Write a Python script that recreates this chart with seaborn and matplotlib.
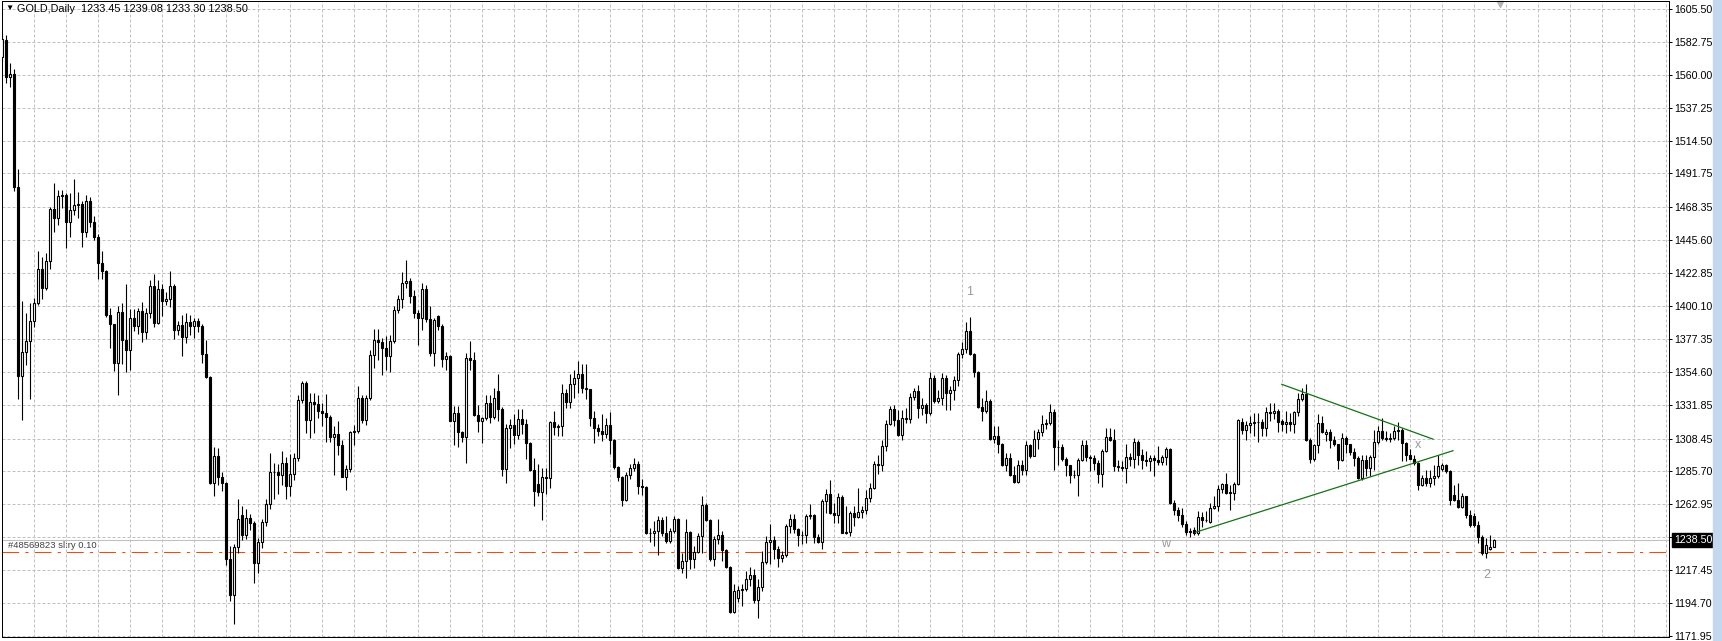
import numpy as np
import pandas as pd
import seaborn as sns
import matplotlib.pyplot as plt
from matplotlib.patches import Rectangle

# GOLD daily candles (oldest first)
opens = [
    1572.3, 1584.0, 1558.3, 1560.5, 1482.2, 1351.7, 1368.1, 1376.1, 1390.0, 1402.4,
    1426.0, 1412.7, 1430.9, 1467.5, 1461.0, 1475.9, 1477.0, 1458.0, 1466.5, 1470.0,
    1470.5, 1451.5, 1473.0, 1458.0, 1448.0, 1430.0, 1424.2, 1393.7, 1387.6, 1360.5,
    1395.7, 1376.3, 1369.9, 1391.8, 1386.4, 1396.5, 1382.0, 1395.0, 1414.0, 1388.4,
    1411.9, 1403.3, 1405.0, 1414.0, 1383.2, 1387.0, 1378.4, 1389.0, 1386.0, 1390.0,
    1386.0, 1367.2, 1351.1, 1277.7, 1296.4, 1282.1, 1277.5, 1224.9, 1200.3, 1233.5,
    1255.6, 1241.8, 1253.5, 1250.0, 1222.4, 1236.9, 1250.7, 1263.2, 1285.3, 1285.5,
    1283.0, 1291.6, 1275.7, 1284.0, 1295.0, 1335.1, 1346.8, 1321.0, 1334.0, 1332.5,
    1327.2, 1326.0, 1323.7, 1309.4, 1311.7, 1303.7, 1282.2, 1287.3, 1312.9, 1313.4,
    1336.4, 1321.4, 1336.4, 1366.4, 1376.7, 1375.0, 1371.0, 1365.7, 1375.6, 1397.5,
    1404.9, 1415.9, 1417.5, 1406.7, 1395.2, 1391.7, 1411.8, 1391.0, 1367.5, 1393.0,
    1386.4, 1363.4, 1365.2, 1320.9, 1326.0, 1312.7, 1309.4, 1364.0, 1363.0, 1324.9,
    1320.9, 1322.6, 1332.9, 1323.7, 1341.0, 1328.6, 1287.6, 1315.9, 1317.5, 1310.6,
    1322.1, 1318.2, 1305.6, 1286.7, 1277.0, 1271.5, 1282.0, 1281.0, 1320.0, 1316.6,
    1316.8, 1340.1, 1333.7, 1346.5, 1350.5, 1353.0, 1343.5, 1342.4, 1322.8, 1315.9,
    1313.6, 1311.3, 1317.5, 1307.4, 1289.0, 1282.0, 1266.0, 1283.0, 1288.3, 1290.6,
    1275.6, 1274.9, 1243.4, 1243.0, 1244.5, 1251.9, 1243.0, 1237.7, 1244.6, 1252.6,
    1219.2, 1224.0, 1243.9, 1224.9, 1230.0, 1241.0, 1262.3, 1252.2, 1225.0, 1238.8,
    1241.6, 1231.5, 1219.5, 1188.2, 1198.5, 1203.8, 1204.3, 1211.3, 1214.0, 1197.0,
    1205.6, 1223.2, 1237.0, 1238.0, 1232.4, 1226.2, 1227.8, 1248.0, 1253.0, 1246.0,
    1241.9, 1241.8, 1254.9, 1255.8, 1240.5, 1237.0, 1265.3, 1270.4, 1256.8, 1255.6,
    1268.2, 1243.4, 1244.0, 1257.2, 1254.5, 1257.9, 1259.0, 1267.6, 1274.5, 1291.0,
    1290.0, 1303.2, 1318.8, 1329.2, 1321.5, 1310.8, 1323.0, 1322.2, 1337.0, 1341.5,
    1329.6, 1331.9, 1326.0, 1350.3, 1334.2, 1336.5, 1350.3, 1339.9, 1342.2, 1349.1,
    1367.0, 1370.2, 1382.9, 1367.0, 1354.8, 1330.0, 1327.2, 1334.6, 1308.2, 1310.5,
    1304.8, 1290.5, 1295.0, 1283.5, 1278.4, 1290.5, 1286.5, 1303.7, 1296.7, 1308.3,
    1312.9, 1318.3, 1319.4, 1327.0, 1302.7, 1302.5, 1294.4, 1290.0, 1283.5, 1283.3,
    1293.9, 1303.7, 1295.8, 1295.3, 1291.3, 1284.2, 1299.7, 1309.7, 1307.8, 1289.3,
    1288.8, 1288.0, 1295.8, 1294.4, 1306.0, 1297.4, 1293.5, 1292.8, 1294.9, 1293.8,
    1292.0, 1295.8, 1301.3, 1263.8, 1258.8, 1255.3, 1249.3, 1244.5, 1245.0, 1243.0,
    1253.9, 1251.8, 1251.0, 1260.4, 1261.5, 1273.6, 1277.3, 1271.5, 1270.8, 1277.3,
    1320.0, 1314.3, 1318.0, 1319.4, 1320.0, 1319.6, 1316.0, 1327.0, 1326.4, 1327.5,
    1320.5, 1318.8, 1320.0, 1318.6, 1327.0, 1335.6, 1339.0, 1307.8, 1294.4, 1303.7,
    1319.0, 1311.5, 1313.0, 1307.4, 1304.4, 1293.5, 1309.0, 1304.4, 1299.0, 1295.0,
    1281.0, 1293.9, 1288.2, 1295.8, 1306.0, 1313.6, 1309.0, 1308.3, 1309.0, 1313.6,
    1314.2, 1305.1, 1297.4, 1294.4, 1291.6, 1276.6, 1281.2, 1277.7, 1281.2, 1282.8,
    1287.5, 1290.0, 1285.8, 1269.5, 1266.0, 1261.0, 1268.5, 1255.8, 1255.0, 1249.0,
    1240.7, 1229.0, 1231.9, 1233.45,
]
highs = [
    1589.1, 1587.5, 1568.4, 1563.8, 1494.9, 1403.3, 1395.0, 1402.0, 1405.5, 1438.0,
    1434.0, 1436.8, 1468.8, 1484.9, 1480.0, 1480.0, 1478.5, 1478.6, 1488.0, 1479.0,
    1472.5, 1477.0, 1475.5, 1462.5, 1450.0, 1438.0, 1425.0, 1399.0, 1388.0, 1400.0,
    1402.5, 1415.4, 1398.0, 1398.0, 1399.0, 1403.0, 1399.0, 1418.0, 1422.0, 1418.0,
    1415.5, 1410.0, 1424.0, 1415.5, 1389.5, 1394.0, 1395.0, 1394.0, 1391.5, 1391.5,
    1387.5, 1376.5, 1352.0, 1302.9, 1302.0, 1285.0, 1278.5, 1234.0, 1235.5, 1267.0,
    1261.8, 1259.7, 1256.0, 1251.5, 1240.0, 1252.5, 1267.0, 1298.5, 1291.3, 1291.0,
    1300.0, 1296.0, 1298.0, 1298.5, 1338.6, 1348.0, 1348.0, 1339.9, 1340.3, 1338.7,
    1333.0, 1339.4, 1325.0, 1316.8, 1320.3, 1307.6, 1290.3, 1314.0, 1318.0, 1344.5,
    1338.7, 1338.7, 1369.8, 1384.1, 1384.1, 1377.9, 1379.5, 1380.2, 1399.8, 1407.9,
    1423.3, 1432.0, 1419.4, 1411.3, 1397.5, 1415.9, 1414.8, 1399.8, 1391.7, 1394.0,
    1388.0, 1368.0, 1366.4, 1330.7, 1331.0, 1314.0, 1367.5, 1375.6, 1368.0, 1331.8,
    1323.7, 1338.7, 1338.7, 1343.3, 1352.8, 1330.0, 1318.2, 1321.7, 1325.1, 1329.0,
    1329.0, 1321.7, 1306.0, 1295.2, 1290.6, 1288.3, 1288.3, 1320.5, 1327.4, 1318.2,
    1345.9, 1342.4, 1352.8, 1356.2, 1362.0, 1359.7, 1359.7, 1342.9, 1327.4, 1318.2,
    1325.1, 1322.8, 1326.7, 1308.0, 1289.5, 1282.5, 1285.3, 1290.6, 1294.7, 1292.9,
    1280.2, 1275.5, 1246.9, 1251.5, 1254.9, 1254.0, 1254.9, 1246.9, 1254.9, 1253.5,
    1229.6, 1252.6, 1244.5, 1234.2, 1243.4, 1268.7, 1264.1, 1253.0, 1241.1, 1252.6,
    1244.6, 1232.0, 1220.4, 1207.7, 1206.6, 1207.7, 1217.0, 1219.3, 1218.2, 1211.3,
    1230.8, 1241.2, 1249.2, 1241.2, 1234.3, 1230.8, 1249.2, 1256.1, 1256.1, 1246.9,
    1244.6, 1256.1, 1263.0, 1256.1, 1242.3, 1266.4, 1273.3, 1279.5, 1264.1, 1271.0,
    1269.5, 1261.8, 1258.4, 1261.8, 1274.5, 1261.8, 1272.8, 1277.4, 1292.8, 1297.4,
    1307.8, 1321.5, 1330.7, 1331.9, 1328.4, 1328.4, 1329.6, 1339.9, 1343.4, 1345.7,
    1336.5, 1333.0, 1354.8, 1352.6, 1342.2, 1353.7, 1352.6, 1344.5, 1351.4, 1368.6,
    1375.5, 1389.3, 1392.7, 1367.9, 1355.5, 1336.5, 1342.2, 1336.0, 1317.0, 1317.4,
    1305.5, 1298.6, 1298.6, 1289.3, 1293.9, 1293.9, 1307.1, 1305.0, 1314.3, 1314.8,
    1324.5, 1321.7, 1332.1, 1328.7, 1307.8, 1304.4, 1295.8, 1290.5, 1287.0, 1295.1,
    1307.8, 1307.8, 1297.4, 1297.4, 1293.9, 1300.9, 1315.9, 1315.9, 1314.8, 1293.9,
    1292.8, 1304.4, 1298.6, 1309.0, 1307.8, 1300.9, 1299.7, 1297.4, 1297.4, 1303.2,
    1297.4, 1302.7, 1302.0, 1266.2, 1260.8, 1260.4, 1251.1, 1246.5, 1247.6, 1258.1,
    1257.4, 1258.1, 1263.9, 1268.5, 1276.6, 1277.7, 1284.7, 1276.6, 1278.2, 1322.2,
    1322.9, 1320.6, 1324.0, 1326.4, 1326.4, 1321.7, 1330.5, 1332.8, 1332.8, 1328.7,
    1322.0, 1327.5, 1326.4, 1327.5, 1340.2, 1343.7, 1346.0, 1308.5, 1304.4, 1325.2,
    1324.0, 1315.2, 1315.2, 1310.2, 1305.0, 1312.5, 1310.2, 1305.0, 1302.0, 1296.7,
    1297.4, 1297.4, 1297.4, 1314.3, 1317.1, 1322.9, 1313.6, 1312.5, 1317.1, 1319.9,
    1315.9, 1306.0, 1300.9, 1297.4, 1292.0, 1283.5, 1287.0, 1287.0, 1290.5, 1297.4,
    1291.6, 1291.0, 1286.5, 1276.6, 1277.7, 1270.8, 1269.0, 1259.2, 1256.9, 1251.1,
    1241.9, 1239.5, 1241.9, 1239.08,
]
lows = [
    1569.0, 1554.5, 1551.8, 1479.9, 1335.6, 1321.0, 1359.0, 1335.6, 1385.4, 1401.0,
    1405.0, 1411.0, 1426.0, 1451.5, 1456.0, 1468.0, 1440.0, 1448.0, 1463.0, 1461.0,
    1441.0, 1447.5, 1454.5, 1445.5, 1419.0, 1419.0, 1392.5, 1371.0, 1355.0, 1338.3,
    1359.7, 1354.6, 1356.0, 1383.0, 1381.0, 1375.5, 1377.0, 1391.5, 1385.5, 1387.5,
    1393.5, 1401.0, 1399.5, 1377.3, 1380.0, 1365.5, 1374.5, 1380.0, 1378.0, 1382.0,
    1360.5, 1350.0, 1277.0, 1268.8, 1276.0, 1272.0, 1221.0, 1196.0, 1180.0, 1229.0,
    1238.0, 1238.8, 1245.0, 1208.6, 1215.5, 1233.0, 1248.0, 1259.5, 1267.0, 1270.0,
    1276.0, 1266.5, 1268.5, 1280.0, 1293.0, 1333.0, 1312.6, 1308.7, 1312.2, 1322.6,
    1316.8, 1306.4, 1306.4, 1283.4, 1297.2, 1281.8, 1273.0, 1285.0, 1304.1, 1312.0,
    1319.1, 1318.0, 1335.0, 1357.2, 1362.9, 1352.5, 1356.0, 1354.8, 1374.4, 1395.2,
    1398.6, 1412.5, 1402.1, 1391.7, 1373.3, 1383.7, 1389.4, 1365.2, 1358.3, 1383.7,
    1357.8, 1356.0, 1320.3, 1304.1, 1302.5, 1306.4, 1291.5, 1356.0, 1324.2, 1313.3,
    1305.3, 1321.5, 1319.1, 1322.0, 1320.3, 1282.5, 1277.5, 1302.1, 1304.4, 1307.9,
    1311.3, 1294.1, 1286.0, 1261.8, 1268.7, 1252.2, 1269.9, 1274.5, 1310.6, 1310.2,
    1310.2, 1329.7, 1329.7, 1336.6, 1340.1, 1340.1, 1335.5, 1317.1, 1305.6, 1310.2,
    1306.7, 1309.0, 1297.5, 1287.2, 1279.1, 1261.8, 1265.3, 1280.7, 1286.0, 1269.9,
    1269.2, 1242.3, 1237.0, 1234.2, 1227.8, 1241.1, 1236.5, 1236.5, 1243.4, 1218.1,
    1215.3, 1212.3, 1218.1, 1219.2, 1229.6, 1229.6, 1251.5, 1223.8, 1220.4, 1235.4,
    1223.8, 1219.2, 1187.7, 1187.5, 1195.1, 1192.8, 1203.2, 1206.7, 1194.8, 1184.2,
    1203.2, 1221.6, 1221.6, 1225.1, 1219.3, 1222.8, 1226.5, 1243.4, 1243.4, 1234.3,
    1235.4, 1236.5, 1252.6, 1236.5, 1236.5, 1232.0, 1257.2, 1256.0, 1250.3, 1250.3,
    1243.0, 1242.5, 1241.2, 1248.0, 1253.8, 1253.8, 1256.1, 1264.6, 1273.3, 1284.1,
    1285.9, 1299.7, 1318.1, 1316.9, 1310.0, 1307.3, 1319.2, 1319.2, 1335.3, 1322.7,
    1325.0, 1319.2, 1325.0, 1333.0, 1333.0, 1331.9, 1328.4, 1328.4, 1335.3, 1344.5,
    1364.0, 1367.5, 1366.3, 1350.7, 1329.6, 1320.4, 1326.1, 1307.8, 1305.5, 1298.6,
    1289.3, 1285.8, 1282.4, 1277.7, 1277.7, 1283.5, 1283.5, 1295.1, 1296.3, 1300.9,
    1310.2, 1314.8, 1318.0, 1287.0, 1290.5, 1292.8, 1282.4, 1277.7, 1281.2, 1268.5,
    1292.8, 1292.8, 1285.8, 1287.0, 1277.7, 1275.0, 1299.0, 1306.7, 1285.8, 1285.8,
    1285.8, 1277.7, 1289.3, 1288.2, 1290.5, 1287.5, 1289.3, 1285.8, 1282.8, 1290.5,
    1290.5, 1290.5, 1263.2, 1255.7, 1251.1, 1247.6, 1241.9, 1240.7, 1241.9, 1242.0,
    1247.6, 1250.5, 1250.0, 1259.8, 1258.1, 1270.8, 1270.3, 1259.2, 1266.2, 1276.5,
    1311.3, 1307.8, 1312.5, 1310.2, 1306.0, 1310.2, 1310.2, 1320.6, 1321.7, 1312.9,
    1314.0, 1312.5, 1313.6, 1312.5, 1324.0, 1334.5, 1306.7, 1291.6, 1292.8, 1298.6,
    1312.5, 1306.7, 1302.0, 1303.2, 1287.5, 1292.8, 1298.6, 1297.4, 1289.3, 1280.5,
    1280.1, 1282.4, 1282.4, 1287.0, 1305.0, 1307.8, 1306.7, 1306.0, 1307.4, 1307.8,
    1292.8, 1292.8, 1294.0, 1290.5, 1272.6, 1275.4, 1275.4, 1275.0, 1276.6, 1281.2,
    1285.8, 1284.7, 1262.7, 1265.0, 1260.4, 1260.4, 1253.4, 1247.6, 1247.6, 1236.1,
    1228.0, 1225.7, 1231.4, 1233.30,
]
closes = [
    1584.8, 1558.3, 1560.5, 1482.2, 1351.7, 1368.1, 1376.1, 1390.0, 1402.4, 1426.0,
    1412.7, 1430.9, 1467.5, 1461.0, 1475.9, 1477.0, 1458.0, 1466.5, 1470.0, 1470.5,
    1451.5, 1473.0, 1458.0, 1448.0, 1430.0, 1424.2, 1393.7, 1387.6, 1360.5, 1395.7,
    1376.3, 1369.9, 1391.8, 1386.4, 1396.5, 1382.0, 1395.0, 1414.0, 1388.4, 1411.9,
    1403.3, 1405.0, 1414.0, 1383.2, 1387.0, 1378.4, 1389.0, 1386.0, 1390.0, 1386.0,
    1367.2, 1351.1, 1277.7, 1296.4, 1282.1, 1277.5, 1224.9, 1200.3, 1233.5, 1252.8,
    1241.8, 1253.5, 1250.0, 1222.4, 1236.9, 1250.7, 1263.2, 1285.3, 1285.5, 1283.0,
    1291.6, 1275.7, 1284.0, 1295.0, 1335.1, 1346.8, 1321.0, 1334.0, 1332.5, 1327.2,
    1326.0, 1323.7, 1309.4, 1311.7, 1303.7, 1282.2, 1287.3, 1312.9, 1313.4, 1336.4,
    1321.4, 1336.4, 1366.4, 1376.7, 1375.0, 1371.0, 1365.7, 1375.6, 1397.5, 1404.9,
    1415.9, 1417.5, 1406.7, 1395.2, 1391.7, 1411.8, 1391.0, 1367.5, 1390.6, 1386.4,
    1363.4, 1365.2, 1320.9, 1326.0, 1312.7, 1309.4, 1364.0, 1363.0, 1324.9, 1320.9,
    1322.6, 1332.9, 1323.7, 1336.4, 1328.6, 1287.6, 1315.9, 1317.5, 1310.6, 1322.1,
    1318.2, 1305.6, 1286.7, 1272.2, 1271.5, 1282.0, 1281.0, 1320.0, 1316.6, 1316.8,
    1340.1, 1333.7, 1346.5, 1350.5, 1353.0, 1343.5, 1342.4, 1322.8, 1315.9, 1313.6,
    1311.3, 1317.5, 1307.4, 1289.0, 1282.0, 1266.0, 1283.0, 1288.3, 1290.6, 1275.6,
    1274.9, 1243.4, 1243.0, 1244.5, 1251.9, 1243.0, 1237.7, 1244.6, 1252.6, 1219.2,
    1224.0, 1243.9, 1224.9, 1230.0, 1241.0, 1262.3, 1252.2, 1225.0, 1238.8, 1241.6,
    1231.5, 1219.5, 1188.2, 1203.0, 1203.8, 1204.3, 1211.3, 1214.0, 1197.0, 1205.6,
    1223.2, 1237.0, 1238.0, 1232.4, 1226.2, 1227.8, 1248.0, 1253.0, 1246.0, 1241.9,
    1241.8, 1254.9, 1255.8, 1240.5, 1237.0, 1265.3, 1270.4, 1256.8, 1255.6, 1268.2,
    1243.4, 1244.0, 1257.2, 1254.5, 1257.9, 1259.0, 1267.6, 1274.5, 1291.0, 1290.0,
    1303.2, 1318.8, 1329.2, 1321.5, 1310.8, 1323.0, 1322.2, 1337.0, 1341.5, 1329.6,
    1331.9, 1326.0, 1350.3, 1334.2, 1336.5, 1350.3, 1339.9, 1342.2, 1349.1, 1367.0,
    1370.2, 1382.9, 1367.0, 1354.8, 1330.0, 1327.2, 1334.6, 1308.2, 1310.5, 1304.8,
    1290.5, 1295.0, 1283.5, 1278.4, 1290.5, 1286.5, 1303.7, 1296.7, 1308.3, 1312.9,
    1318.3, 1319.4, 1327.0, 1302.7, 1302.5, 1294.4, 1290.0, 1283.5, 1283.3, 1293.9,
    1303.7, 1295.8, 1295.3, 1291.3, 1284.2, 1299.7, 1309.7, 1307.8, 1289.3, 1288.8,
    1288.0, 1295.8, 1294.4, 1306.0, 1297.4, 1293.5, 1292.8, 1294.9, 1293.8, 1292.0,
    1295.8, 1301.3, 1263.8, 1258.8, 1255.3, 1249.3, 1243.5, 1243.5, 1243.0, 1253.9,
    1251.8, 1252.3, 1260.4, 1261.5, 1273.6, 1277.3, 1270.8, 1270.8, 1277.3, 1321.3,
    1314.3, 1318.0, 1319.4, 1320.0, 1319.6, 1316.0, 1327.0, 1326.4, 1327.5, 1319.9,
    1318.8, 1320.0, 1318.6, 1327.0, 1335.6, 1339.0, 1307.8, 1294.4, 1303.7, 1319.0,
    1313.0, 1313.0, 1307.4, 1304.4, 1293.5, 1309.0, 1304.4, 1299.0, 1295.0, 1281.0,
    1293.9, 1288.2, 1295.8, 1306.0, 1313.6, 1309.0, 1308.3, 1309.0, 1313.6, 1314.2,
    1305.1, 1297.4, 1294.4, 1291.6, 1276.6, 1281.2, 1277.7, 1281.2, 1282.8, 1289.3,
    1290.0, 1285.8, 1265.7, 1266.0, 1261.0, 1268.5, 1255.8, 1248.8, 1249.0, 1240.7,
    1229.0, 1234.9, 1233.45, 1238.50,
]

price_ticks = [1605.50, 1582.75, 1560.00, 1537.25, 1514.50, 1491.75, 1468.35,
               1445.60, 1422.85, 1400.10, 1377.35, 1354.60, 1331.85, 1308.45,
               1285.70, 1262.95, 1240.20, 1217.45, 1194.70, 1171.95]
header_text = "GOLD,Daily  1233.45 1239.08 1233.30 1238.50"
bid_price = 1238.50
sl_price = 1230.0
order_text = "#48569823 sl:ry 0.10"

# trend lines (bar index, price)
upper_x = [319.9, 357.8]
upper_y = [1346.0, 1308.0]
lower_x = [298.3, 362.8]
lower_y = [1243.6, 1300.1]

# wave marks
wave_names = ["1", "w", "x", "2"]
wave_x = [242, 291, 354, 371.3]
wave_y = [1410.0, 1235.5, 1304.0, 1214.0]

sns.set_theme(style="white")
plt.rcParams["font.family"] = ["Liberation Sans", "DejaVu Sans"]

W, H = 1722, 641
fig = plt.figure(figsize=(W / 100, H / 100), dpi=100)
ax = fig.add_axes([1.5 / W, 4 / H, 1667.5 / W, 636 / H])

df = pd.DataFrame({"open": opens, "high": highs, "low": lows, "close": closes})
df["bar"] = np.arange(len(df))
up = df["close"] >= df["open"]

ax.vlines(df["bar"], df["low"], df["high"], color="black", lw=0.8, zorder=3)
ax.bar(df["bar"], (df["close"] - df["open"]).abs().clip(lower=0.3),
       bottom=df[["open", "close"]].min(axis=1), width=0.55,
       color=np.where(up, "white", "black"), edgecolor="black",
       linewidth=0.8, zorder=4)

# current bid and stop-loss lines
ax.axhline(bid_price, color="#c0c0c0", lw=0.75, zorder=2)
ax.axhline(sl_price, color="#ff4500", lw=0.75, ls=(0, (16, 6, 3, 6)), zorder=2)
ax.text(1.6, sl_price + 1.2, order_text, fontsize=6.8, color="#404040",
        ha="left", va="bottom", zorder=6)

sns.lineplot(x=upper_x, y=upper_y, ax=ax, color="#137313", lw=0.9, zorder=5)
sns.lineplot(x=lower_x, y=lower_y, ax=ax, color="#137313", lw=0.9, zorder=5)

for name, wx, wy in zip(wave_names, wave_x, wave_y):
    ax.text(wx, wy, name, fontsize=9, color="#9a9a9a", ha="center", va="center")

ax.set_xlim(-0.125, 416.75)
ax.set_ylim(1171.23, 1611.03)
ax.set_xticks(np.arange(8, 417, 8))
ax.set_yticks(price_ticks)
ax.set_yticklabels([f"{t:.2f}" for t in price_ticks])
ax.grid(True, color="#c0c0c0", linestyle=(0, (3, 2)), lw=0.72)
ax.set_axisbelow(True)
ax.yaxis.tick_right()
ax.tick_params(axis="y", which="both", right=True, left=False, length=2.5,
               width=0.72, pad=1.5, labelsize=7.7, color="black",
               labelcolor="black", direction="out")
ax.tick_params(axis="x", length=0, labelbottom=False)
for sp in ax.spines.values():
    sp.set_color("black")
    sp.set_linewidth(0.72)

# bid price box on the scale
ax.text(1.003, bid_price, f"{bid_price:.2f}", transform=ax.get_yaxis_transform(),
        color="white", fontsize=7.7, ha="left", va="center", clip_on=False, zorder=10,
        bbox=dict(boxstyle="square,pad=0.18", fc="black", ec="black"))

# chart shift marker
ax.plot([374.5], [1609.3], marker="v", ms=4, color="#b4b4b4", clip_on=False)

fig.text(5 / W, 1 - 8.5 / H, "\u25bc", fontsize=6, color="black", va="center")
fig.text(17 / W, 1 - 8.5 / H, header_text, fontsize=7.8, color="black", va="center")

fig.add_artist(Rectangle((1713 / W, 0), 9 / W, 1, transform=fig.transFigure,
                         color="#c3d7ee"))

fig.savefig("out.png", dpi=100)
